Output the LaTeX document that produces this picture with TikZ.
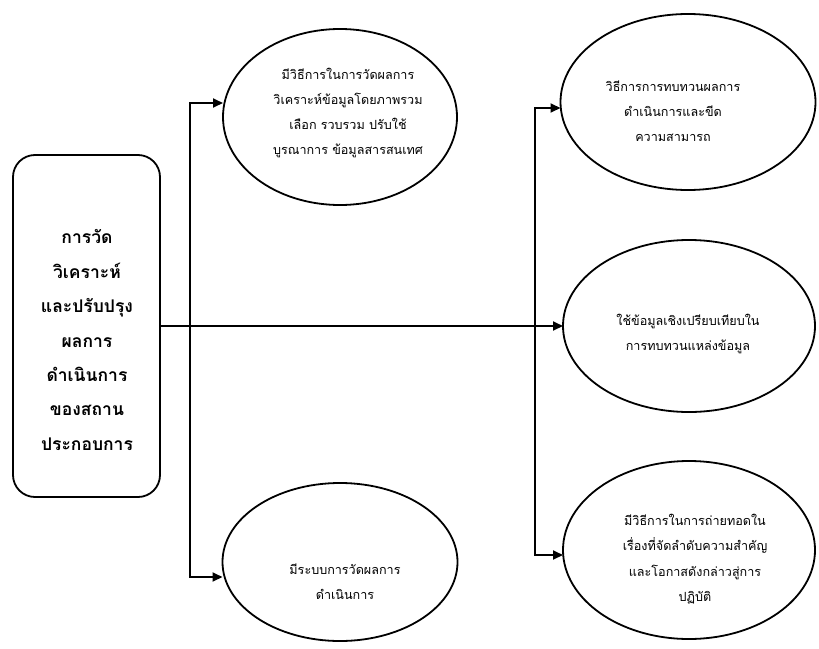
\documentclass[tikz,border=0pt]{standalone}
\usepackage{fontspec}
\newfontfamily\thaifont[Script=Thai]{Loma}
\usetikzlibrary{shapes.geometric,arrows.meta}
\begin{document}
\begin{tikzpicture}[x=1pt,y=-1pt,
  line/.style={line width=1.8pt,black},
  arr/.style={line, -{Triangle[length=10pt,width=9pt]}},
  bubble/.style={ellipse,draw,line width=1.8pt,inner sep=0pt,outer sep=0pt},
  label/.style={align=center,font=\thaifont\fontsize{12.6}{25.3}\selectfont},
  mainbox/.style={draw,line width=1.8pt,rounded corners=22pt,inner sep=0pt,outer sep=0pt,
    minimum width=147pt,minimum height=342pt}]
\useasboundingbox (0,0) rectangle (819,648);

% main box on the left
\node[mainbox] (box) at (86.5,326) {};
\node[align=center,font=\thaifont\bfseries\fontsize{17.5}{34.4}\selectfont] (boxtext) at (87,340)
  {การวัด\\วิเคราะห์\\และปรับปรุง\\ผลการ\\ดำเนินการ\\ของสถาน\\ประกอบการ};

% outcome ellipses
\node[bubble,minimum width=234pt,minimum height=176pt] (e1) at (340,117) {};
\node[bubble,minimum width=235pt,minimum height=158pt] (e2) at (340,562) {};
\node[bubble,minimum width=255pt,minimum height=176pt] (e3) at (688,102) {};
\node[bubble,minimum width=252pt,minimum height=172pt] (e4) at (689,326) {};
\node[bubble,minimum width=252pt,minimum height=178pt] (e5) at (689,550) {};

\node[label] (t1) at (348,113)
  {มีวิธีการในการวัดผลการ\\วิเคราะห์ข้อมูลโดยภาพรวม\\เลือก รวบรวม ปรับใช้\\บูรณาการ ข้อมูลสารสนเทศ};
\node[label] (t2) at (345,582)
  {มีระบบการวัดผลการ\\ดำเนินการ};
\node[label] (t3) at (673,111)
  {วิธีการการทบทวนผลการ\\ดำเนินการและขีด\\ความสามารถ};
\node[label] (t4) at (688,334)
  {ใช้ข้อมูลเชิงเปรียบเทียบใน\\การทบทวนแหล่งข้อมูล};
\node[label] (t5) at (695,559)
  {มีวิธีการในการถ่ายทอดใน\\เรื่องที่จัดลำดับความสำคัญ\\และโอกาสดังกล่าวสู่การ\\ปฏิบัติ};

% branch points
\coordinate (la) at (190,103);
\coordinate (lb) at (190,577);
\coordinate (ra) at (535,108);
\coordinate (rb) at (535,555);

% connectors
\draw[arr] (box.east) -- (e4.west);
\draw[line] (la) -- (lb);
\draw[line] (ra) -- (rb);
\draw[arr] ([xshift=-0.9pt]la) -- (e1.west |- la);
\draw[arr] ([xshift=-0.9pt]lb) -- (e2.west |- lb);
\draw[arr] ([xshift=-0.9pt]ra) -- (e3.west |- ra);
\draw[arr] ([xshift=-0.9pt]rb) -- (e5.west |- rb);
\end{tikzpicture}
\end{document}
